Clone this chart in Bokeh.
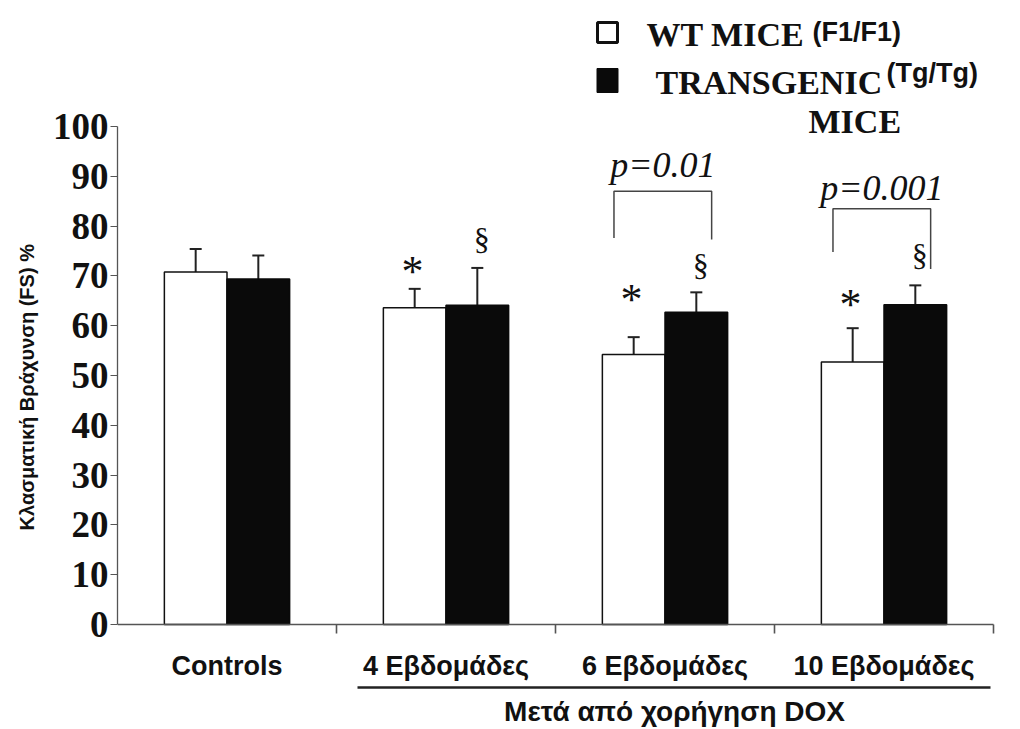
from bokeh.plotting import figure
from bokeh.models import (Range1d, LinearAxis, FixedTicker, ColumnDataSource,
                          Whisker, TeeHead)
from bokeh.core.properties import value
from bokeh.embed import file_html
from bokeh.resources import INLINE

# ---------------- data ----------------
categories = ["Controls", "4 Εβδομάδες", "6 Εβδομάδες", "10 Εβδομάδες"]
wt_means = [70.8, 63.6, 54.2, 52.7]
wt_err = [4.6, 3.8, 3.5, 6.8]
tg_means = [69.4, 64.1, 62.7, 64.2]
tg_err = [4.7, 7.5, 4.0, 3.9]
y_ticks = [0, 10, 20, 30, 40, 50, 60, 70, 80, 90, 100]

# significance marks (category index, value level of the mark)
star_cats = [1, 2, 3]
star_levels = [70.8, 65.2, 64.2]
sect_cats = [1, 2, 3]
sect_levels = [77.5, 72.1, 74.1]
p_texts = ["p=0.01", "p=0.001"]
p_cats = [2, 3]
p_levels = [92.2, 87.7]
bracket_tops = [87.0, 83.5]
bracket_left_ends = [77.6, 74.8]
bracket_right_ends = [77.3, 71.4]

group_label = "Μετά από χορήγηση DOX"
y_label = "Κλασματική Βράχυνση (FS) %"

# ---------------- layout ----------------
W, H = 1012, 729
PX0, PY0 = 117.0, 624.0      # picture pixel of data origin
SX, SY = 219.0, 4.98          # pixels per unit


def dx(px):
    return (px - PX0) / SX


def dy(py):
    return (PY0 - py) / SY


BW = 0.286
n = len(categories)
centers = [i + 0.5 for i in range(n)]
wt_x = [c - BW / 2 for c in centers]
tg_x = [c + BW / 2 for c in centers]

p = figure(width=W, height=H, output_backend="svg", toolbar_location=None,
           x_range=Range1d(0, dx(W)), y_range=Range1d(dy(H), dy(0)),
           min_border_left=int(PX0), min_border_right=0,
           min_border_top=0, min_border_bottom=0,
           x_axis_location=None, y_axis_location=None,
           background_fill_color="white", border_fill_color="white")
p.outline_line_color = None
p.grid.grid_line_color = None

AX = "#555555"
# trailing no-break spaces shift the centred title down to sit beside the 0-100 span
yaxis = LinearAxis(ticker=FixedTicker(ticks=y_ticks), bounds=(0, 100),
                   axis_label=y_label + "\u00a0" * 8)
yaxis.axis_line_color = AX
yaxis.axis_line_width = 1.3
yaxis.major_tick_line_color = AX
yaxis.major_tick_out = 7
yaxis.major_tick_in = 0
yaxis.minor_tick_line_color = None
yaxis.major_label_text_font = "Liberation Serif"
yaxis.major_label_text_font_style = "bold"
yaxis.major_label_text_font_size = "37px"
yaxis.major_label_text_color = "#111111"
yaxis.major_label_standoff = 2
yaxis.axis_label_text_font = "Liberation Sans"
yaxis.axis_label_text_font_style = "bold"
yaxis.axis_label_text_font_size = "20px"
yaxis.axis_label_text_color = "#111111"
yaxis.axis_label_standoff = 12
p.add_layout(yaxis, "left")

xaxis = LinearAxis(ticker=FixedTicker(ticks=centers, minor_ticks=[1, 2, 3, 4]),
                   bounds=(0, 4), fixed_location=0,
                   major_label_overrides={c: lab for c, lab in zip(centers, categories)})
xaxis.axis_line_color = AX
xaxis.axis_line_width = 1.6
xaxis.major_tick_out = 0
xaxis.major_tick_in = 0
xaxis.major_tick_line_color = None
xaxis.minor_tick_line_color = AX
xaxis.minor_tick_line_width = 1.6
xaxis.minor_tick_out = 9
xaxis.minor_tick_in = 0
xaxis.major_label_text_font = "Liberation Sans"
xaxis.major_label_text_font_style = "bold"
xaxis.major_label_text_font_size = "27px"
xaxis.major_label_text_color = "#111111"
xaxis.major_label_standoff = 17
p.add_layout(xaxis, "below")

# bars
p.vbar(x=wt_x, top=wt_means, bottom=0, width=BW, fill_color="white",
       line_color="#111111", line_width=1.5)
p.vbar(x=tg_x, top=tg_means, bottom=0, width=BW, fill_color="#0a0a0a",
       line_color="#0a0a0a", line_width=1.5)

# error bars
for xs, ms, es in ((wt_x, wt_means, wt_err), (tg_x, tg_means, tg_err)):
    src = ColumnDataSource(dict(x=xs, upper=[m + e for m, e in zip(ms, es)],
                                lower=[m - e for m, e in zip(ms, es)]))
    p.add_layout(Whisker(source=src, base="x", upper="upper", lower="lower",
                         line_color="#222222", line_width=2,
                         upper_head=TeeHead(size=12, line_color="#222222", line_width=2),
                         lower_head=TeeHead(size=12, line_color="#222222", line_width=2)))

SERIF = value("Liberation Serif")
SANS = value("Liberation Sans")

# asterisks and section marks
p.text(x=[wt_x[i] - 0.01 for i in star_cats], y=star_levels, text=["*"] * len(star_cats),
       text_font=SERIF, text_font_size="44px", text_align="center",
       text_baseline="middle", text_color="#111111")
p.text(x=[tg_x[i] + 0.02 for i in sect_cats], y=sect_levels, text=["§"] * len(sect_cats),
       text_font=SERIF, text_font_size="32px", text_align="center",
       text_baseline="middle", text_color="#111111")

# p-value brackets
bx0 = [wt_x[c] - 0.09 for c in p_cats]
bx1 = [tg_x[c] + 0.07 for c in p_cats]
p.multi_line(xs=[[a, a, b, b] for a, b in zip(bx0, bx1)],
             ys=[[l, t, t, r] for l, t, r in zip(bracket_left_ends, bracket_tops, bracket_right_ends)],
             line_color="#444444", line_width=1.5)
p.text(x=[centers[c] - 0.01 for c in p_cats], y=p_levels, text=p_texts,
       text_font=SERIF, text_font_style="italic", text_font_size="36px",
       text_align="center", text_baseline="middle", text_color="#111111")

# group underline + label
p.segment(x0=[dx(357)], y0=[dy(687)], x1=[dx(990)], y1=[dy(687)],
          line_color="#222222", line_width=2.5)
p.text(x=[dx(674)], y=[dy(711)], text=[group_label], text_font=SANS,
       text_font_style="bold", text_font_size="28px", text_align="center",
       text_baseline="middle", text_color="#111111")

# legend
p.rect(x=[dx(607)], y=[dy(32)], width=20 / SX, height=20 / SY,
       fill_color="white", line_color="#111111", line_width=3)
p.rect(x=[dx(607)], y=[dy(80)], width=21 / SX, height=24 / SY,
       fill_color="#0a0a0a", line_color="#0a0a0a", line_width=1)
p.text(x=[dx(646), dx(655), dx(808)], y=[dy(34), dy(82), dy(121)],
       text=["WT MICE", "TRANSGENIC", "MICE"], text_font=SERIF,
       text_font_style="bold", text_font_size="34px", text_align="left",
       text_baseline="middle", text_color="#111111")
p.text(x=[dx(812), dx(886)], y=[dy(31), dy(72)], text=["(F1/F1)", "(Tg/Tg)"],
       text_font=SANS, text_font_style="bold", text_font_size="27px",
       text_align="left", text_baseline="middle", text_color="#111111")

open("out.html", "w").write(file_html(p, INLINE))
